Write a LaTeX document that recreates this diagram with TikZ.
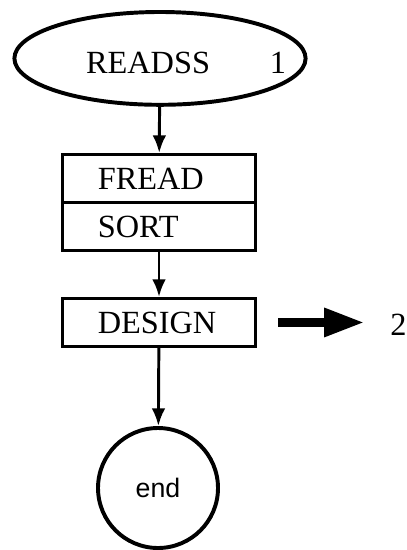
\documentclass[tikz,border=0pt]{standalone}
\usepackage{fontspec}
\setmainfont{Liberation Serif}
\setsansfont{Liberation Sans}
\usepackage{tikz}
\usetikzlibrary{arrows.meta,positioning,shapes.geometric}

\begin{document}
\begin{tikzpicture}[
  font=\fontsize{11.5}{13}\selectfont,
  prog/.style={ellipse,draw,line width=1.4pt,minimum width=3.64cm,minimum height=1.16cm},
  box/.style={rectangle,draw,line width=1.05pt,minimum height=0.6cm,text width=1.53cm,inner xsep=0.44cm,align=left},
  stop/.style={circle,draw,line width=1.4pt,minimum size=1.5cm,inner sep=0pt,font=\sffamily\fontsize{9.5}{11}\selectfont},
  arr/.style={-{Latex[length=2.2mm,width=1.7mm]},line width=1.05pt},
  bigarr/.style={-{Triangle[length=5mm,width=3.4mm]},line width=3pt}
]
\useasboundingbox (0,0) rectangle (5.0875,-6.875);

\node[prog] (readss) at (2.0,-0.73) {};
\node at (1.85,-0.79) {READSS};
\node at (3.475,-0.79) {1};

\node[box] (fread) at (1.9875,-2.231) {FREAD};
\node[box,below=-1.05pt of fread] (sort) {SORT};
\node[box] (design) at (1.9875,-4.031) {DESIGN};
\node[inner sep=0pt] (two) at (4.98,-4.06) {2};

\node[stop] (end) at (1.975,-6.1) {end};

\draw[arr] (readss) -- (fread);
\draw[arr] (sort) -- (design);
\draw[arr] (design) -- (end);
\draw[bigarr,shorten <=0.27cm,shorten >=0.32cm] (design.east) -- (design.east -| two.west);
\end{tikzpicture}
\end{document}
